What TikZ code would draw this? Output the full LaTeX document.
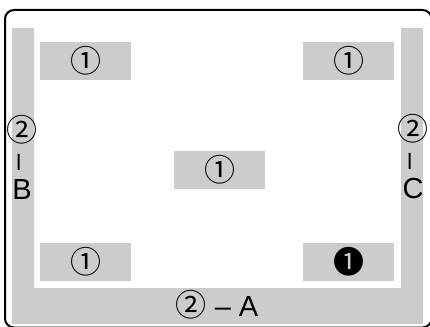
\documentclass[tikz,border=0pt]{standalone}
\usepackage{fontspec}
\setmainfont{Liberation Sans}
\newfontfamily\circfont{Noto Sans CJK JP}
\usetikzlibrary{positioning}

\begin{document}
\begin{tikzpicture}[x=1pt, y=-1pt,
  spot_box/.style={fill=black!20, minimum width=91pt, minimum height=38pt,
                   inner sep=0pt, font=\circfont\fontsize{31}{31}\selectfont},
  bar_label/.style={inner sep=0pt, align=center,
                    font=\fontsize{29}{29}\selectfont},
]
  \useasboundingbox (0,0) rectangle (430,326);
  \clip (0,0) rectangle (430,326);

  % outer frame, runs off the right and bottom edges
  \draw[line width=2pt, rounded corners=9pt] (5,10) rectangle (431.5,327.5);

  % grey border strip
  \fill[black!20] (12,28) -- (34,28) -- (34,288) -- (401,288) -- (401,28)
    -- (423,28) -- (423,324) -- (12,324) -- cycle;

  \node[spot_box] (tl) at (85.5,61) {①};
  \node[spot_box] (tr) at (348.5,61) {①};
  \node[spot_box] (mid) at (219.5,170) {①};
  \node[spot_box] (bl) at (85.5,262) {①};
  \node[spot_box] (br) at (348.5,262) {❶};

  \node[bar_label] (lb) at (22,157) {{\circfont\fontsize{31}{29}\selectfont ②}\\\rotatebox{90}{–}\\B};
  \node[bar_label] (rb) at (413,157) {{\circfont\fontsize{31}{29}\selectfont ②}\\\rotatebox{90}{–}\\C};
  \node[bar_label] (bb) at (217,305) {{\circfont\fontsize{31}{29}\selectfont ②} – A};
\end{tikzpicture}
\end{document}
